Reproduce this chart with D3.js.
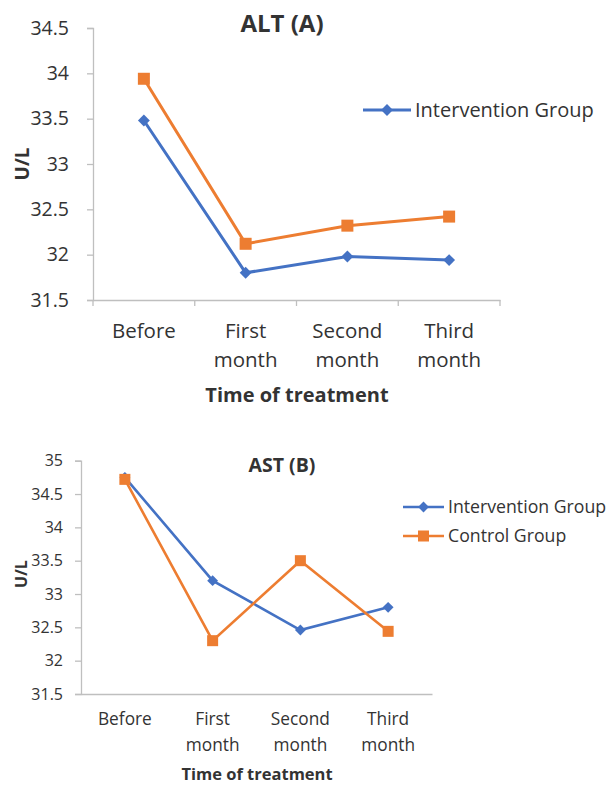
<!DOCTYPE html>
<html>
<head>
<meta charset="utf-8">
<script src="https://cdn.jsdelivr.net/npm/d3@7"></script>
<style>
  html, body { margin: 0; padding: 0; background: #fff; }
  svg { display: block; }
  text { font-family: "Open Sans", sans-serif; fill: #333; }
</style>
</head>
<body>
<svg id="chart" width="607" height="785"></svg>
<script>
// ---------- data ----------
const categories = [["Before"], ["First", "month"], ["Second", "month"], ["Third", "month"]];
const seriesNames = ["Intervention Group", "Control Group"];
const altIntervention = [33.48, 31.80, 31.98, 31.94];
const altControl = [33.94, 32.12, 32.32, 32.42];
const astIntervention = [34.75, 33.20, 32.46, 32.80];
const astControl = [34.72, 32.30, 33.50, 32.44];
const altTicks = [31.5, 32, 32.5, 33, 33.5, 34, 34.5];
const astTicks = [31.5, 32, 32.5, 33, 33.5, 34, 34.5, 35];

const colors = ["#4472C4", "#ED7D31"];
const svg = d3.select("#chart");

function drawChart(cfg) {
  const g = svg.append("g");
  const x = d3.scaleBand().domain(d3.range(categories.length)).range([cfg.x0, cfg.x1]);
  const y = d3.scaleLinear().domain([cfg.ticks[0], cfg.ticks[cfg.ticks.length - 1]]).range([cfg.y0, cfg.y1]);

  // y axis
  const yAxis = d3.axisLeft(y).tickValues(cfg.ticks).tickSize(6).tickPadding(cfg.yPad)
    .tickFormat(d => String(d));
  const ya = g.append("g").attr("transform", `translate(${cfg.x0},0)`).call(yAxis);
  ya.select(".domain").attr("stroke", "#bfbfbf").attr("stroke-width", 1.3);
  ya.selectAll(".tick line").attr("stroke", "#bfbfbf").attr("stroke-width", 1.3);
  ya.selectAll(".tick text").attr("font-size", cfg.tickFont).attr("fill", "#333")
    .attr("font-family", "Open Sans, sans-serif");

  // x axis line
  const xAxis = d3.axisBottom(x).tickSize(0).tickFormat("");
  const xa = g.append("g").attr("transform", `translate(0,${cfg.y0})`).call(xAxis);
  xa.select(".domain").attr("stroke", "#bfbfbf").attr("stroke-width", 1.3);
  if (cfg.xTicks) {
    const bounds = d3.range(categories.length + 1).map(i => cfg.x0 + i * x.step());
    xa.selectAll(".bnd").data(bounds).enter().append("line")
      .attr("x1", d => d).attr("x2", d => d).attr("y1", 0).attr("y2", 6)
      .attr("stroke", "#bfbfbf").attr("stroke-width", 1.3);
  }

  // category labels
  categories.forEach((lines, i) => {
    lines.forEach((t, j) => {
      g.append("text").attr("x", x(i) + x.bandwidth() / 2).attr("y", cfg.catY + j * cfg.catLH)
        .attr("text-anchor", "middle").attr("font-size", cfg.catFont).text(t);
    });
  });

  // axis titles
  g.append("text").attr("x", cfg.xTitleX).attr("y", cfg.xTitleY).attr("text-anchor", "middle")
    .attr("font-size", cfg.xTitleFont).attr("font-weight", "bold").attr("fill", "#262626")
    .text("Time of treatment");
  g.append("text").attr("transform", `translate(${cfg.yTitleX},${cfg.yTitleY}) rotate(-90)`)
    .attr("text-anchor", "middle").attr("font-size", cfg.yTitleFont).attr("font-weight", "bold")
    .attr("fill", "#262626").text("U/L");
  g.append("text").attr("x", cfg.titleX).attr("y", cfg.titleY).attr("text-anchor", "middle")
    .attr("font-size", cfg.titleFont).attr("font-weight", "bold").attr("fill", "#262626")
    .text(cfg.title);

  // series
  const line = d3.line().x((d, i) => x(i) + x.bandwidth() / 2).y(d => y(d));
  const diamond = d3.symbol().type(d3.symbolDiamond2).size(cfg.diamondSize);
  cfg.series.forEach((vals, s) => {
    g.append("path").datum(vals).attr("d", line).attr("fill", "none")
      .attr("stroke", colors[s]).attr("stroke-width", cfg.lineW);
    vals.forEach((v, i) => {
      const cx = x(i) + x.bandwidth() / 2, cy = y(v);
      if (s === 0) {
        g.append("path").attr("d", diamond).attr("transform", `translate(${cx},${cy})`)
          .attr("fill", colors[0]);
      } else {
        g.append("rect").attr("x", cx - cfg.sq / 2).attr("y", cy - cfg.sq / 2)
          .attr("width", cfg.sq).attr("height", cfg.sq).attr("fill", colors[1]);
      }
    });
  });

  // legend
  cfg.legendRows.forEach((s, k) => {
    const ly = cfg.legY + k * cfg.legDY;
    g.append("line").attr("x1", cfg.legX0).attr("x2", cfg.legX1).attr("y1", ly).attr("y2", ly)
      .attr("stroke", colors[s]).attr("stroke-width", cfg.lineW);
    const mx = (cfg.legX0 + cfg.legX1) / 2;
    if (s === 0) {
      g.append("path").attr("d", diamond).attr("transform", `translate(${mx},${ly})`).attr("fill", colors[0]);
    } else {
      g.append("rect").attr("x", mx - cfg.sq / 2).attr("y", ly - cfg.sq / 2)
        .attr("width", cfg.sq).attr("height", cfg.sq).attr("fill", colors[1]);
    }
    g.append("text").attr("x", cfg.legX1 + 4).attr("y", ly + cfg.legFont * 0.36)
      .attr("font-size", cfg.legFont).text(seriesNames[s]);
  });
}

drawChart({
  title: "ALT (A)", ticks: altTicks, series: [altIntervention, altControl],
  x0: 93, x1: 500, y0: 300, y1: 28, yPad: 18, xTicks: true,
  tickFont: 19.5, catFont: 20.5, catY: 338, catLH: 29,
  xTitleX: 297, xTitleY: 402, xTitleFont: 20,
  yTitleX: 29, yTitleY: 164, yTitleFont: 19,
  titleX: 282, titleY: 32, titleFont: 24,
  lineW: 3, diamondSize: 90, sq: 12,
  legendRows: [0], legX0: 363, legX1: 411, legY: 110, legDY: 29, legFont: 20
});

drawChart({
  title: "AST (B)", ticks: astTicks, series: [astIntervention, astControl],
  x0: 81, x1: 432, y0: 694, y1: 460.7, yPad: 12, xTicks: false,
  tickFont: 16, catFont: 17.3, catY: 725, catLH: 26,
  xTitleX: 257, xTitleY: 780, xTitleFont: 16.5,
  yTitleX: 27, yTitleY: 574, yTitleFont: 16,
  titleX: 282, titleY: 472, titleFont: 19.5,
  lineW: 2.6, diamondSize: 75, sq: 11,
  legendRows: [0, 1], legX0: 403, legX1: 444, legY: 507, legDY: 29, legFont: 17.7
});
</script>
</body>
</html>
